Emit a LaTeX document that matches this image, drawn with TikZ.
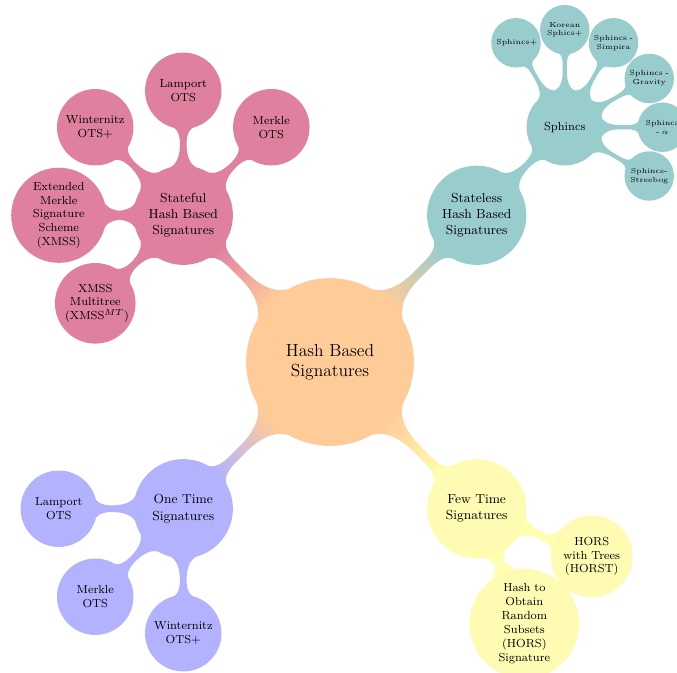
\documentclass[tikz,border=0pt]{standalone}
\usetikzlibrary{mindmap,calc}
\colorlet{cRoot}{orange!40}
\colorlet{cPink}{purple!50}
\colorlet{cTeal}{teal!40}
\colorlet{cBlue}{blue!30}
\colorlet{cYel}{yellow!30}
\tikzset{
  rootbox/.style={concept, concept color=cRoot, minimum size=4cm, text width=3.2cm, inner sep=0pt, align=center, text=black, font=\large},
  lvone/.style={concept, minimum size=2.35cm, text width=1.8cm, inner sep=0pt, align=center, text=black, font=\small},
  lvtwo/.style={concept, minimum size=1.8cm, text width=1.45cm, inner sep=0pt, align=center, text=black, font=\footnotesize},
  lvthree/.style={concept, minimum size=1.15cm, text width=0.95cm, inner sep=0pt, align=center, text=black, font=\tiny},
  bar/.style 2 args={circle connection bar switch color=from (#1) to (#2)},
}
\begin{document}
\begin{tikzpicture}[mindmap]
\useasboundingbox (-7.952,-7.470) rectangle (8.361,8.723);
\clip (-7.952,-7.470) rectangle (8.361,8.723);
% root
\node[rootbox] (root) at (0,0) {Hash Based\\Signatures};
% level 1
\node[lvone, concept color=cPink] (sf) at (135:5) {Stateful\\Hash Based\\Signatures};
\node[lvone, concept color=cTeal] (sl) at (45:5) {Stateless\\Hash Based\\Signatures};
\node[lvone, concept color=cBlue] (ot) at (225:5) {One Time\\Signatures};
\node[lvone, concept color=cYel] (ft) at (315:5) {Few Time\\Signatures};
% stateful children
\node[lvtwo, concept color=cPink] (sfa) at ($(sf)+(45:3)$) {Merkle\\OTS};
\node[lvtwo, concept color=cPink] (sfb) at ($(sf)+(90:3)$) {Lamport\\OTS};
\node[lvtwo, concept color=cPink] (sfc) at ($(sf)+(135:3)$) {Winternitz\\OTS+};
\node[lvtwo, concept color=cPink, minimum size=2.25cm] (sfd) at ($(sf)+(180:3)$) {Extended\\Merkle\\Signature\\Scheme\\(XMSS)};
\node[lvtwo, concept color=cPink, minimum size=1.9cm] (sfe) at ($(sf)+(225:3)$) {XMSS\\Multitree\\(XMSS$^{MT}$)};
% stateless children
\node[lvtwo, concept color=cTeal] (sph) at ($(sl)+(45:3)$) {Sphincs};
\node[lvthree, concept color=cTeal] (spa) at ($(sph)+(120:2.35)$) {Sphincs+};
\node[lvthree, concept color=cTeal] (spb) at ($(sph)+(90:2.35)$) {Korean\\Sphics+};
\node[lvthree, concept color=cTeal] (spc) at ($(sph)+(60:2.35)$) {Sphincs -\\Simpira};
\node[lvthree, concept color=cTeal] (spd) at ($(sph)+(30:2.35)$) {Sphincs -\\Gravity};
\node[lvthree, concept color=cTeal] (spe) at ($(sph)+(0:2.35)$) {Sphincs\\- $\alpha$};
\node[lvthree, concept color=cTeal] (spf) at ($(sph)+(-30:2.35)$) {Sphincs-\\Streebog};
% one time children
\node[lvtwo, concept color=cBlue] (ota) at ($(ot)+(180:3)$) {Lamport\\OTS};
\node[lvtwo, concept color=cBlue] (otb) at ($(ot)+(225:3)$) {Merkle\\OTS};
\node[lvtwo, concept color=cBlue] (otc) at ($(ot)+(270:3)$) {Winternitz\\OTS+};
% few time children
\node[lvtwo, concept color=cYel, minimum size=1.93cm] (fta) at ($(ft)+(-22.5:3)$) {HORS\\with Trees\\(HORST)};
\node[lvtwo, concept color=cYel, minimum size=2.6cm] (ftb) at ($(ft)+(-67.5:3)$) {Hash to\\Obtain\\Random\\Subsets\\(HORS)\\Signature};
% connection bars
\path (root) to[bar={cRoot}{cPink}] (sf);
\path (root) to[bar={cRoot}{cTeal}] (sl);
\path (root) to[bar={cRoot}{cBlue}] (ot);
\path (root) to[bar={cRoot}{cYel}] (ft);
\foreach \c in {sfa,sfb,sfc,sfd,sfe} \path (sf) to[bar={cPink}{cPink}] (\c);
\path (sl) to[bar={cTeal}{cTeal}] (sph);
\foreach \c in {spa,spb,spc,spd,spe,spf} \path (sph) to[bar={cTeal}{cTeal}] (\c);
\foreach \c in {ota,otb,otc} \path (ot) to[bar={cBlue}{cBlue}] (\c);
\foreach \c in {fta,ftb} \path (ft) to[bar={cYel}{cYel}] (\c);
\end{tikzpicture}
\end{document}
